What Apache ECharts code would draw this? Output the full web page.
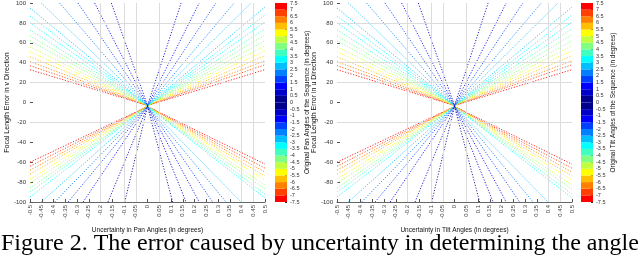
<!DOCTYPE html>
<html><head><meta charset="utf-8">
<script src="https://cdn.jsdelivr.net/npm/echarts@6/dist/echarts.min.js"></script>
<style>html,body{margin:0;padding:0;background:#fff}#c{width:640px;height:259px}</style>
</head><body><div id="c"></div>
<script>
// ---- data ----
const xTickMin = -0.5, xTickMax = 0.5, xTickStep = 0.05;
const yTickMin = -100, yTickMax = 100, yTickStep = 20;
const cbMin = -7.5, cbMax = 7.5, cbStep = 0.5;
// colour bands of |angle| from 0-0.5 (index 0) up to 7-7.5 (index 14)
const bandColors = ['#00008f','#0000c8','#0000ff','#0040ff','#0080ff','#00bfff','#00ffff','#40ffbf','#80ff80','#bfff40','#ffff00','#ffbf00','#ff8000','#ff4000','#ff0000'];
// upper family (V opening upward)
const upperVertex = [0, -3];
const upperLeftEnd = [[-0.5,33],[-0.5,37],[-0.5,41],[-0.5,46],[-0.5,51],[-0.5,56],[-0.5,62],[-0.5,67],[-0.5,73],[-0.5,80],[-0.5,87],[-0.5,95],[-0.452,100],[-0.374,100],[-0.296,100],[-0.225,100],[-0.154,100]];
const upperRightEnd = [[0.5,33],[0.5,38],[0.5,42],[0.5,47],[0.5,52],[0.5,57],[0.5,62],[0.5,68],[0.5,74],[0.5,81],[0.5,88],[0.5,96],[0.44,100],[0.369,100],[0.291,100],[0.22,100],[0.143,100]];
const upperBand = [14,13,12,11,10,9,8,8,7,6,6,5,5,4,3,2,1];
// lower family (opening downward)
const lowerVertex = [0, -4];
const lowerLeftEnd = [[-0.5,-60],[-0.5,-64],[-0.5,-68],[-0.5,-72],[-0.5,-77],[-0.5,-81],[-0.5,-86],[-0.5,-90],[-0.5,-95],[-0.452,-100],[-0.395,-100],[-0.338,-100],[-0.274,-100],[-0.168,-100],[-0.097,-100]];
const lowerRightEnd = [[0.5,-62],[0.5,-66],[0.5,-70],[0.5,-74],[0.5,-78],[0.5,-83],[0.5,-87],[0.5,-92],[0.5,-96],[0.398,-100],[0.334,-100],[0.277,-100],[0.22,-100],[0.164,-100],[0.107,-100]];
const lowerBand = [14,13,12,11,10,9,8,7,6,5,4,3,2,1,0];
// light grid lines visible in the picture
const gridXs = [-0.2,-0.1,-0.05,0.05,0.4,0.45];
const gridYs = [80,40,20,-20];
const panelNames = [
  {y:'Focal Length Error in v Direction', x:'Uncertainty in Pan Angles (in degrees)', cb:'Original Pan Angles of the Sequence (in degrees)'},
  {y:'Focal Length Error in u Direction', x:'Uncertainty in Tilt Angles (in degrees)', cb:'Original Tilt Angles of the Sequence (in degrees)'}
];
const caption = 'Figure 2. The error caused by uncertainty in determining the angle';

// ---- chart ----
const FONT = '"Liberation Sans", Arial, sans-serif';
const chart = echarts.init(document.getElementById('c'), null, {renderer:'canvas'});
const plotLeft = [30, 337], cbLeft = [275, 581];
const grids = [], xAxes = [], yAxes = [], series = [];
function fmt(v){ return String(parseFloat(v.toFixed(2))); }
for (let p = 0; p < 2; p++) {
  const gi = grids.length;
  grids.push({left: plotLeft[p], top: 2, width: 235, height: 200});
  grids.push({left: cbLeft[p], top: 2, width: 12, height: 200});
  xAxes.push({gridIndex: gi, type:'value', min:xTickMin, max:xTickMax, interval:xTickStep,
    axisLine:{show:true, onZero:false, lineStyle:{color:'#666', width:1}},
    axisTick:{inside:true, length:3, lineStyle:{color:'#555'}},
    splitLine:{show:false},
    axisLabel:{rotate:90, fontSize:6, color:'#444', margin:3, fontFamily:FONT, formatter: fmt, showMinLabel:true, showMaxLabel:true},
    name: panelNames[p].x, nameLocation:'middle', nameGap:25,
    nameTextStyle:{fontSize:6.5, color:'#111', fontFamily:FONT}});
  yAxes.push({gridIndex: gi, type:'value', min:yTickMin, max:yTickMax, interval:yTickStep,
    axisLine:{show:false, onZero:false}, axisTick:{show:true, inside:true, length:3, lineStyle:{color:'#555'}},
    splitLine:{show:false},
    axisLabel:{fontSize:6, color:'#333', margin:4, fontFamily:FONT},
    name: panelNames[p].y, nameLocation:'middle', nameGap:19, nameRotate:90,
    nameTextStyle:{fontSize:7, color:'#111', fontFamily:FONT}});
  xAxes.push({gridIndex: gi+1, type:'value', min:0, max:1, show:false});
  yAxes.push({gridIndex: gi+1, type:'value', min:cbMin, max:cbMax, interval:cbStep, position:'right',
    axisLine:{show:false, onZero:false}, axisTick:{show:true, inside:true, length:2, lineStyle:{color:'#333'}},
    splitLine:{show:false},
    axisLabel:{fontSize:5.5, color:'#333', margin:3, fontFamily:FONT, formatter: fmt},
    name: panelNames[p].cb, nameLocation:'middle', nameGap:15, nameRotate:90,
    nameTextStyle:{fontSize:6.5, color:'#111', fontFamily:FONT}});
  const xi = xAxes.length - 2, yi = yAxes.length - 2;
  // grid lines
  series.push({type:'line', xAxisIndex:xi, yAxisIndex:yi, data:[], silent:true, z:1,
    markLine:{silent:true, symbol:'none', label:{show:false}, animation:false,
      lineStyle:{color:'#dcdcdc', type:'solid', width:1},
      data: gridXs.map(v => ({xAxis:v})).concat(gridYs.map(v => ({yAxis:v})))}});
  // data lines
  const fam = [[upperLeftEnd, upperRightEnd, upperVertex, upperBand],[lowerLeftEnd, lowerRightEnd, lowerVertex, lowerBand]];
  fam.forEach(([L, R, V, B]) => {
    for (let i = 0; i < L.length; i++) {
      series.push({type:'line', xAxisIndex:xi, yAxisIndex:yi, data:[L[i], V, R[i]], showSymbol:false, symbol:'none',
        silent:true, z:3, clip:true,
        lineStyle:{color:bandColors[B[i]], width:1, opacity:0.85, type:[1.2,1.6]}});
    }
  });
  // colour bar
  const areas = [];
  for (let k = 0; k < 30; k++) {
    const lo = cbMin + k*cbStep, hi = lo + cbStep;
    const band = Math.min(14, Math.floor(Math.abs(lo + cbStep/2) / cbStep));
    areas.push([{yAxis: lo, itemStyle:{color: bandColors[band], opacity:1}}, {yAxis: hi}]);
  }
  series.push({type:'line', xAxisIndex:xi+1, yAxisIndex:yi+1, data:[], silent:true,
    markArea:{silent:true, data: areas, label:{show:false}}});
}
chart.setOption({
  animation:false,
  backgroundColor:'#fff',
  grid: grids, xAxis: xAxes, yAxis: yAxes, series: series,
  graphic:[{type:'text', left:1, top:232, style:{text: caption, font:'24px "Liberation Serif", "Times New Roman", serif', fill:'#000'}}]
});
</script></body></html>
